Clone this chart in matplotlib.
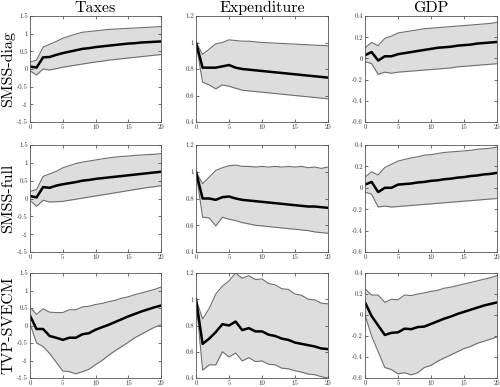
import matplotlib
matplotlib.use("Agg")
import matplotlib.pyplot as plt
import numpy as np

plt.rcParams['font.family'] = ['cmr10', 'DejaVu Serif']
plt.rcParams['axes.unicode_minus'] = False
plt.rcParams['mathtext.fontset'] = 'cm'

horizon = np.arange(21)
columns = ['Taxes', 'Expenditure', 'GDP']
rows = ['SMSS-diag', 'SMSS-full', 'TVP-SVECM']

# SMSS-diag
tax_diag_med = [0.07, 0.04, 0.33, 0.34, 0.40, 0.45, 0.49, 0.53, 0.57, 0.59, 0.62, 0.64, 0.66, 0.68, 0.70, 0.72, 0.73, 0.75, 0.76, 0.77, 0.78]
tax_diag_up = [0.20, 0.25, 0.62, 0.70, 0.78, 0.87, 0.93, 0.99, 1.04, 1.06, 1.08, 1.10, 1.12, 1.13, 1.14, 1.15, 1.16, 1.17, 1.18, 1.19, 1.20]
tax_diag_lo = [-0.05, -0.17, 0.00, -0.03, 0.01, 0.05, 0.08, 0.11, 0.14, 0.17, 0.20, 0.22, 0.25, 0.27, 0.29, 0.31, 0.33, 0.35, 0.37, 0.39, 0.41]
exp_diag_med = [1.00, 0.81, 0.81, 0.81, 0.82, 0.83, 0.81, 0.80, 0.795, 0.79, 0.785, 0.78, 0.775, 0.77, 0.765, 0.76, 0.755, 0.75, 0.745, 0.74, 0.735]
exp_diag_up = [1.00, 0.91, 0.95, 0.99, 1.00, 1.02, 1.015, 1.01, 1.01, 1.005, 1.00, 0.998, 0.995, 0.993, 0.99, 0.988, 0.985, 0.983, 0.98, 0.978, 0.975]
exp_diag_lo = [1.00, 0.70, 0.68, 0.65, 0.68, 0.67, 0.655, 0.64, 0.635, 0.63, 0.625, 0.62, 0.615, 0.61, 0.605, 0.60, 0.595, 0.59, 0.585, 0.58, 0.575]
gdp_diag_med = [0.03, 0.06, -0.02, 0.02, 0.02, 0.04, 0.05, 0.06, 0.07, 0.08, 0.09, 0.10, 0.105, 0.11, 0.12, 0.125, 0.13, 0.14, 0.145, 0.15, 0.155]
gdp_diag_up = [0.10, 0.15, 0.12, 0.19, 0.21, 0.24, 0.25, 0.26, 0.27, 0.28, 0.285, 0.29, 0.295, 0.30, 0.305, 0.31, 0.315, 0.32, 0.325, 0.33, 0.34]
gdp_diag_lo = [-0.03, -0.05, -0.15, -0.13, -0.14, -0.13, -0.125, -0.12, -0.115, -0.11, -0.105, -0.10, -0.095, -0.09, -0.08, -0.075, -0.07, -0.065, -0.06, -0.055, -0.05]

# SMSS-full
tax_full_med = [0.07, 0.03, 0.32, 0.30, 0.36, 0.40, 0.43, 0.46, 0.50, 0.52, 0.55, 0.57, 0.59, 0.61, 0.63, 0.65, 0.67, 0.69, 0.71, 0.73, 0.75]
tax_full_up = [0.20, 0.25, 0.62, 0.69, 0.76, 0.86, 0.92, 0.98, 1.02, 1.05, 1.08, 1.11, 1.14, 1.16, 1.18, 1.19, 1.21, 1.22, 1.23, 1.24, 1.26]
tax_full_lo = [-0.05, -0.22, -0.05, -0.10, -0.09, -0.08, -0.05, -0.02, 0.01, 0.04, 0.07, 0.10, 0.13, 0.16, 0.19, 0.22, 0.25, 0.28, 0.31, 0.33, 0.36]
exp_full_med = [1.00, 0.80, 0.80, 0.79, 0.81, 0.815, 0.80, 0.79, 0.785, 0.78, 0.775, 0.77, 0.765, 0.76, 0.755, 0.75, 0.745, 0.74, 0.74, 0.735, 0.73]
exp_full_up = [1.00, 0.91, 0.96, 1.01, 1.03, 1.045, 1.05, 1.04, 1.04, 1.035, 1.04, 1.035, 1.04, 1.035, 1.04, 1.035, 1.04, 1.03, 1.035, 1.025, 1.035]
exp_full_lo = [1.00, 0.66, 0.655, 0.595, 0.66, 0.645, 0.635, 0.62, 0.61, 0.60, 0.595, 0.59, 0.585, 0.58, 0.575, 0.57, 0.565, 0.56, 0.55, 0.545, 0.54]
gdp_full_med = [0.03, 0.055, -0.04, 0.00, 0.00, 0.03, 0.035, 0.04, 0.05, 0.055, 0.065, 0.07, 0.08, 0.085, 0.095, 0.10, 0.11, 0.115, 0.125, 0.13, 0.14]
gdp_full_up = [0.10, 0.15, 0.12, 0.19, 0.22, 0.25, 0.265, 0.28, 0.29, 0.305, 0.31, 0.32, 0.33, 0.335, 0.34, 0.345, 0.35, 0.36, 0.365, 0.37, 0.38]
gdp_full_lo = [-0.04, -0.06, -0.18, -0.17, -0.18, -0.175, -0.17, -0.165, -0.16, -0.155, -0.15, -0.145, -0.14, -0.135, -0.13, -0.125, -0.12, -0.115, -0.11, -0.105, -0.10]

# TVP-SVECM
tax_tvp_med = [0.28, -0.10, -0.10, -0.30, -0.35, -0.41, -0.35, -0.35, -0.25, -0.22, -0.12, -0.05, 0.02, 0.10, 0.18, 0.26, 0.33, 0.40, 0.46, 0.52, 0.57]
tax_tvp_up = [0.52, 0.32, 0.48, 0.38, 0.37, 0.37, 0.45, 0.45, 0.53, 0.55, 0.60, 0.63, 0.68, 0.72, 0.78, 0.82, 0.88, 0.93, 0.98, 1.03, 1.10]
tax_tvp_lo = [0.05, -0.50, -0.60, -0.80, -1.05, -1.30, -1.32, -1.38, -1.32, -1.25, -1.12, -1.00, -0.85, -0.72, -0.60, -0.48, -0.35, -0.25, -0.15, -0.05, 0.02]
exp_tvp_med = [1.00, 0.66, 0.70, 0.75, 0.81, 0.80, 0.83, 0.765, 0.78, 0.755, 0.755, 0.73, 0.72, 0.70, 0.69, 0.67, 0.66, 0.65, 0.64, 0.625, 0.62]
exp_tvp_up = [1.00, 0.85, 0.93, 1.04, 1.10, 1.14, 1.20, 1.16, 1.18, 1.15, 1.155, 1.12, 1.11, 1.08, 1.075, 1.04, 1.03, 1.00, 0.995, 0.97, 0.965]
exp_tvp_lo = [1.00, 0.46, 0.50, 0.50, 0.60, 0.56, 0.59, 0.53, 0.555, 0.525, 0.53, 0.505, 0.50, 0.475, 0.47, 0.455, 0.445, 0.43, 0.425, 0.41, 0.40]
gdp_tvp_med = [0.12, -0.01, -0.10, -0.19, -0.17, -0.165, -0.13, -0.135, -0.115, -0.11, -0.085, -0.06, -0.035, -0.015, 0.01, 0.03, 0.05, 0.07, 0.09, 0.105, 0.12]
gdp_tvp_up = [0.25, 0.19, 0.19, 0.12, 0.15, 0.145, 0.19, 0.185, 0.20, 0.21, 0.225, 0.235, 0.255, 0.265, 0.28, 0.295, 0.31, 0.325, 0.34, 0.355, 0.375]
gdp_tvp_lo = [0.00, -0.20, -0.35, -0.50, -0.52, -0.56, -0.55, -0.57, -0.55, -0.50, -0.48, -0.44, -0.41, -0.38, -0.35, -0.32, -0.30, -0.27, -0.25, -0.23, -0.21]

panels = [
    [(tax_diag_med, tax_diag_lo, tax_diag_up), (exp_diag_med, exp_diag_lo, exp_diag_up), (gdp_diag_med, gdp_diag_lo, gdp_diag_up)],
    [(tax_full_med, tax_full_lo, tax_full_up), (exp_full_med, exp_full_lo, exp_full_up), (gdp_full_med, gdp_full_lo, gdp_full_up)],
    [(tax_tvp_med, tax_tvp_lo, tax_tvp_up), (exp_tvp_med, exp_tvp_lo, exp_tvp_up), (gdp_tvp_med, gdp_tvp_lo, gdp_tvp_up)],
]

ylims = [(-1.5, 1.5), (0.4, 1.2), (-0.6, 0.4)]
yticks = [
    [-1.5, -1, -0.5, 0, 0.5, 1, 1.5],
    [0.4, 0.6, 0.8, 1.0, 1.2],
    [-0.6, -0.4, -0.2, 0, 0.2, 0.4],
]
ytick_labels = [
    ['-1.5', '-1', '-0.5', '0', '0.5', '1', '1.5'],
    ['0.4', '0.6', '0.8', '1', '1.2'],
    ['-0.6', '-0.4', '-0.2', '0', '0.2', '0.4'],
]

W, H = 500, 387
fig = plt.figure(figsize=(5, 3.87), dpi=100)

col_x = [(30, 161), (196, 328), (365, 497)]
row_y = [(16, 122), (145, 252), (273, 378)]

for i in range(3):
    for j in range(3):
        x0, x1 = col_x[j]
        y0, y1 = row_y[i]
        ax = fig.add_axes([x0 / W, 1 - y1 / H, (x1 - x0) / W, (y1 - y0) / H])
        med, lo, up = panels[i][j]
        ax.fill_between(horizon, lo, up, color='#dddddd', lw=0)
        ax.plot(horizon, up, color='#6e6e6e', lw=0.8)
        ax.plot(horizon, lo, color='#6e6e6e', lw=0.8)
        ax.plot(horizon, med, color='black', lw=1.8)
        ax.set_xlim(0, 20)
        ax.set_ylim(*ylims[j])
        ax.set_xticks([0, 5, 10, 15, 20])
        ax.set_xticklabels(['0', '5', '10', '15', '20'])
        ax.set_yticks(yticks[j])
        ax.set_yticklabels(ytick_labels[j])
        ax.tick_params(direction='in', length=2.5, width=0.5, labelsize=4.8,
                       pad=1.5, top=True, right=True, colors='#333333')
        for s in ax.spines.values():
            s.set_linewidth(0.6)
            s.set_color('#555555')
        if i == 0:
            ax.set_title(columns[j], fontsize=11.5, pad=3)
        if j == 0:
            ax.set_ylabel(rows[i], fontsize=11.5, labelpad=1.5)

fig.savefig('out.png', dpi=100)
